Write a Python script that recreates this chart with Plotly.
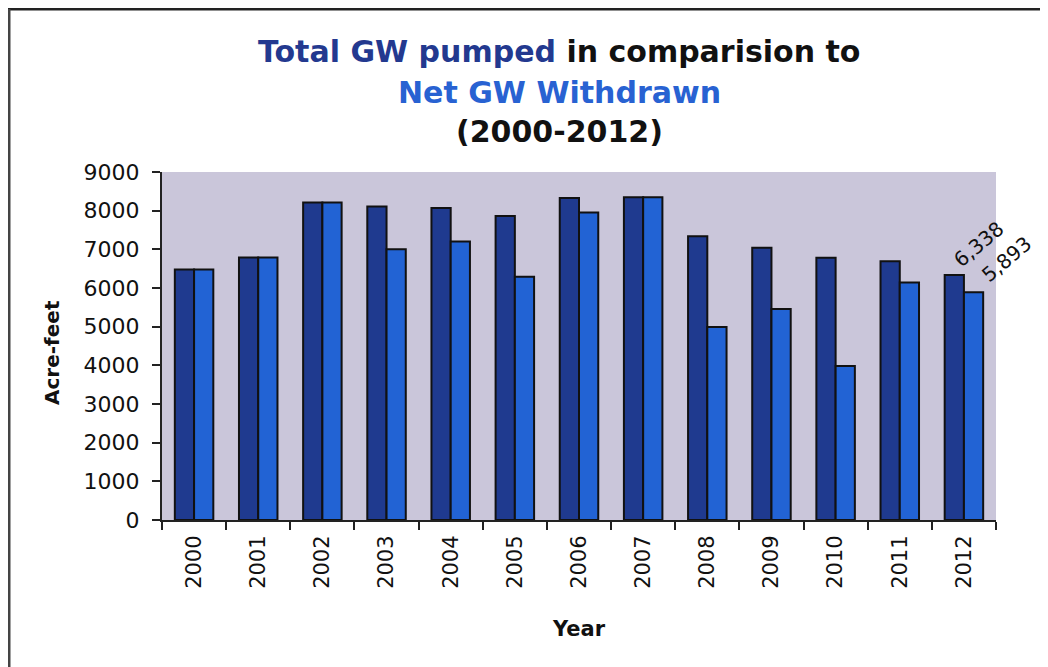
import plotly.graph_objects as go

years = ["2000", "2001", "2002", "2003", "2004", "2005", "2006",
         "2007", "2008", "2009", "2010", "2011", "2012"]
total_pumped = [6480, 6790, 8210, 8110, 8070, 7860, 8330, 8350, 7340, 7040, 6780, 6690, 6338]
net_withdrawn = [6480, 6790, 8210, 7000, 7200, 6290, 7950, 8350, 4990, 5460, 3980, 6140, 5893]

DARK = "#1f3a8f"
LIGHT = "#2263d4"
FONT = "DejaVu Sans, Arial, sans-serif"

fig = go.Figure()
fig.add_trace(go.Bar(x=years, y=total_pumped, name="Total GW pumped",
                     marker=dict(color=DARK, line=dict(color="#111111", width=2))))
fig.add_trace(go.Bar(x=years, y=net_withdrawn, name="Net GW Withdrawn",
                     marker=dict(color=LIGHT, line=dict(color="#111111", width=2))))

OFF = 8  # page body margin
W, H = 1048 - OFF, 667 - OFF
L, T = 162 - OFF, 172 - OFF
R = W - (996 - OFF)
B = H - (520 - OFF)
pw, ph = W - L - R, H - T - B

def px_x(p):
    return (p - OFF - L) / pw

def px_y(p):
    return (H - B - (p - OFF)) / ph

anns = []
title_lines = [
    ("<b><span style='color:#23398f'>Total GW pumped</span> in comparision to</b>", 52),
    ("<b><span style='color:#2862d2'>Net GW Withdrawn</span></b>", 92),
    ("<b>(2000-2012)</b>", 132),
]
for txt, yy in title_lines:
    anns.append(dict(text=txt, x=px_x(559), y=px_y(yy), xref="paper", yref="paper",
                     showarrow=False, xanchor="center", yanchor="middle",
                     font=dict(family=FONT, size=30, color="#111111")))

last = len(years) - 1
anns.append(dict(text=f"{total_pumped[last]:,}", x=last, y=total_pumped[last],
                 xref="x", yref="y", showarrow=False, textangle=-40,
                 xshift=15, yshift=31, font=dict(family=FONT, size=20, color="#111111")))
anns.append(dict(text=f"{net_withdrawn[last]:,}", x=last, y=net_withdrawn[last],
                 xref="x", yref="y", showarrow=False, textangle=-40,
                 xshift=43, yshift=33, font=dict(family=FONT, size=20, color="#111111")))

anns.append(dict(text="<b>Year</b>", x=px_x(579), y=px_y(629), xref="paper", yref="paper",
                 showarrow=False, xanchor="center", yanchor="middle",
                 font=dict(family=FONT, size=21, color="#111111")))
anns.append(dict(text="<b>Acre-feet</b>", x=px_x(52), y=px_y(352), xref="paper", yref="paper",
                 showarrow=False, xanchor="center", yanchor="middle", textangle=-90,
                 font=dict(family=FONT, size=20, color="#111111")))

shapes = [
    dict(type="line", xref="paper", yref="paper", x0=px_x(8), x1=px_x(1060),
         y0=px_y(9), y1=px_y(9), line=dict(color="#222222", width=3)),
    dict(type="line", xref="paper", yref="paper", x0=px_x(9), x1=px_x(9),
         y0=px_y(9), y1=px_y(680), line=dict(color="#444444", width=3)),
]

fig.update_layout(
    width=W, height=H,
    margin=dict(l=L, r=R, t=T, b=B),
    paper_bgcolor="white",
    plot_bgcolor="#cac6da",
    barmode="group",
    bargap=0.4,
    bargroupgap=0,
    showlegend=False,
    annotations=anns,
    shapes=shapes,
    font=dict(family=FONT, size=20, color="#111111"),
)
fig.update_xaxes(
    type="category", range=[-0.5, len(years) - 0.5], tickangle=-90,
    showline=True, linecolor="#222222", linewidth=2,
    ticks="outside", tickson="boundaries", ticklen=8, tickcolor="#222222", tickwidth=2,
    ticklabelstandoff=5,
    tickfont=dict(family=FONT, size=21, color="#111111"),
    showgrid=False,
)
fig.update_yaxes(
    range=[0, 9000], dtick=1000, showline=True, linecolor="#222222", linewidth=2,
    ticks="outside", ticklen=8, tickcolor="#222222", tickwidth=2,
    ticklabelstandoff=8,
    tickfont=dict(family=FONT, size=22, color="#111111"),
    showgrid=False, zeroline=False,
)

fig.write_html("out.html")
